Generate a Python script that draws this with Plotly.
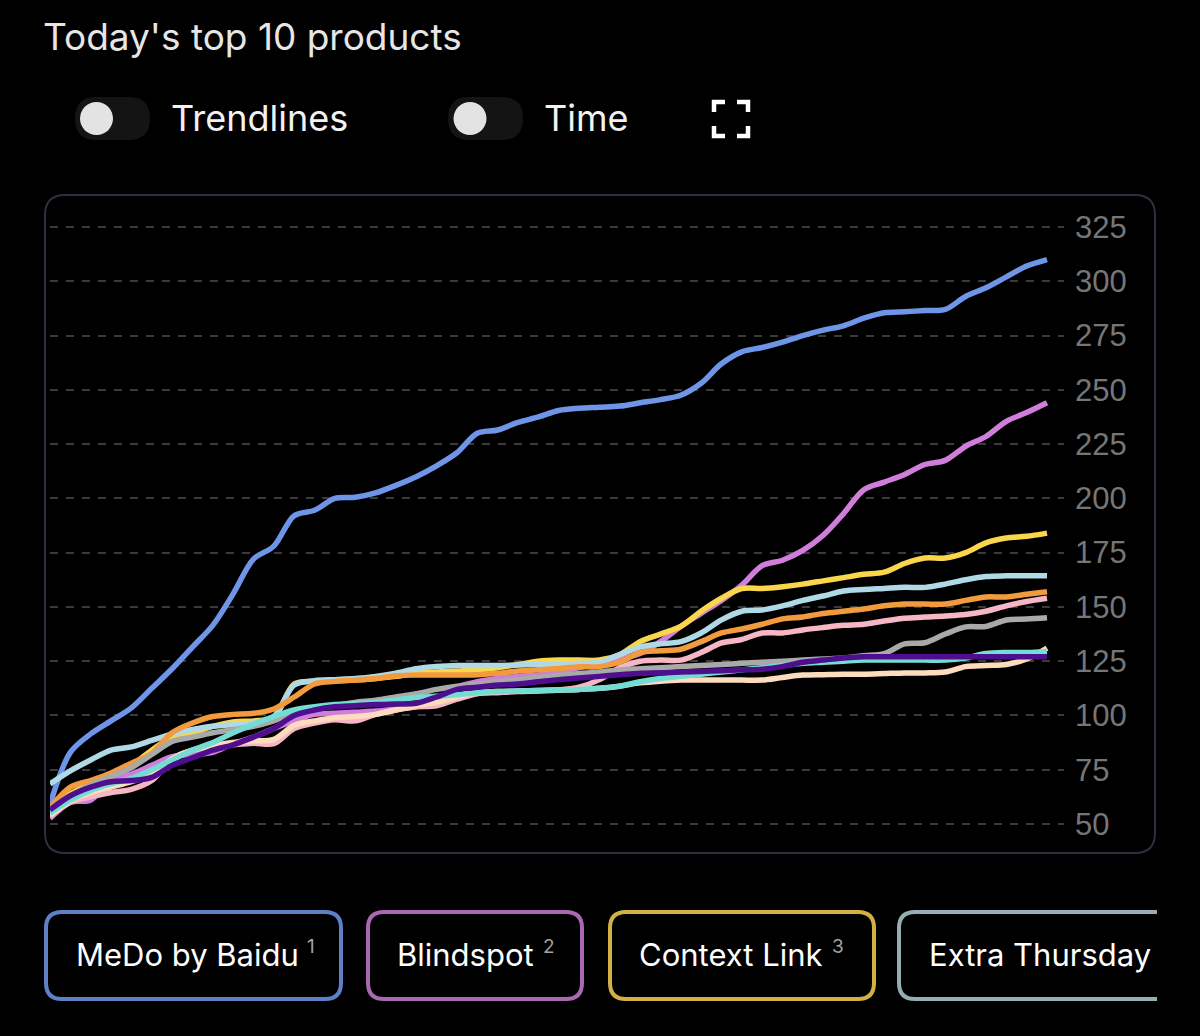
import plotly.graph_objects as go

W, H = 1200, 1036

# ---------------- data ----------------
steps = list(range(50))

medo = [59, 83, 91.5, 97.5, 103.5, 112.5, 121.5, 131.5, 141.5, 156, 172, 178, 192, 194.5, 200, 200.5,
        202.5, 206, 210, 215, 221, 230, 231.5, 235, 237.5, 240.5, 241.5, 242, 242.5, 244, 245.5, 247.5,
        253, 262, 267.5, 269.5, 272, 275, 277.5, 279.5, 283, 285.5, 286, 286.5, 287, 293, 297, 302, 307, 310]
blindspot = [52.5, 60, 61, 70.5, 73, 77, 81, 82, 83, 87, 90, 94, 97.5, 100.5, 101, 101.5, 102, 103, 104,
             107, 113, 115.5, 117, 118, 118.6, 120, 122, 124.5, 126, 128.5, 134, 141, 147, 153, 160, 169,
             171.5, 176, 183, 193, 204, 207.5, 211, 215.6, 217.5, 224, 228.5, 235.5, 239.5, 244]
context_link = [58, 64, 68.5, 72, 77, 84, 90, 92, 95, 97, 97.5, 99, 114.5, 115.7, 116, 116.3, 117, 118,
                119.5, 120, 120.5, 121, 122, 123.5, 125, 125.5, 125.5, 125.5, 128, 134, 137.5, 141, 148,
                154, 158.5, 158.5, 159.3, 160.5, 162, 163.5, 165, 166, 170, 172.5, 172.5, 175, 179.5,
                181.7, 182.5, 184]
extra_thursday = [68.5, 74.5, 79.5, 84, 85.5, 88.5, 91.5, 93.5, 95, 95.8, 96.5, 99.5, 114, 116, 116.5,
                  117, 118, 119.5, 121.5, 122.5, 123, 123, 123, 123.2, 123.5, 123.5, 124, 124.5, 128,
                  131.5, 133, 134, 138, 144, 148, 148.6, 150.5, 153, 155, 157.3, 158, 158.5, 159, 159,
                  160.5, 162.5, 164, 164.3, 164.3, 164.3]
product5 = [57.5, 67, 70, 73.5, 78, 82.5, 92, 96.5, 99.5, 100.5, 101, 103, 108.5, 114.5, 115.7, 116.3,
            117, 118.3, 118.6, 118.6, 118.6, 118.8, 119.4, 120.5, 121, 121.6, 122.4, 122.5, 124.5, 129,
            129.8, 130.5, 134, 138, 139.8, 142, 144.5, 145.4, 147, 148, 149, 150.5, 151.3, 151.3, 151.3,
            153, 154.6, 154.6, 155.8, 157]
product6 = [53.5, 60, 62.5, 64.5, 66, 70, 80, 84, 85.5, 86.5, 87.2, 87, 94, 96.5, 98, 97.5, 100.5, 102.5,
            104, 104.5, 107.5, 110, 110.5, 111, 111.3, 111.7, 113, 116.5, 122, 125, 125.5, 125.5, 129,
            133.4, 135, 138, 138, 139.4, 140.5, 141.5, 142, 143.5, 144.8, 145.3, 145.8, 146.5, 148,
            150.5, 152.5, 154]
product7 = [57, 63, 68, 72, 76, 82, 88, 90, 92, 93.5, 95, 97.5, 101, 103, 104.5, 106, 107, 108.5, 110,
            112, 113.5, 114.5, 115.5, 116.5, 117.5, 118.5, 119.3, 120, 121, 121.5, 122, 122.5, 123,
            123.5, 124, 124.5, 125, 125.5, 126, 126.5, 127.5, 128.5, 133, 133.5, 137.5, 140.8, 141, 144,
            144.4, 145]
product8 = [55, 61, 65.5, 68.5, 71, 75, 79.5, 84, 87.5, 92, 96, 99.5, 102.5, 104, 105, 105.5, 106, 107,
            108.3, 108.8, 109.5, 110.5, 111, 111.3, 111.5, 111.7, 112, 112.5, 113.5, 115.5, 117, 118, 119,
            120, 121, 122, 123, 124, 124.5, 125, 125.5, 125.5, 125.5, 125.5, 125.5, 126.5, 128.5, 129,
            129, 129.5]
product9 = [56.5, 63, 67, 69.5, 70, 71.5, 77, 80.5, 84, 86.5, 90, 94, 100, 102.5, 104, 104.5, 105, 105.3,
            105.6, 108.5, 112, 113, 114, 114.5, 115.5, 116.5, 117.2, 118, 118.7, 119.4, 119.6, 120,
            120.3, 120.6, 121, 121.3, 122.5, 124.5, 125.5, 126.5, 127, 127, 127, 127, 127, 127, 127, 127,
            127, 127]
product10 = [54, 60.5, 64.5, 67, 69.5, 73, 80, 84, 86, 87.5, 88.3, 89, 95.5, 97.5, 99, 99.5, 100.5, 102.5,
             104.5, 106, 108.5, 110.5, 111, 111.3, 111.5, 111.7, 112, 112.5, 113.5, 115, 115.8, 116.3,
             116.3, 116.3, 116.3, 116.3, 117.5, 118.6, 118.8, 119, 119, 119.3, 119.6, 119.6, 120, 122.5,
             123, 123.5, 126, 131]

names = ["MeDo by Baidu", "Blindspot", "Context Link", "Extra Thursday",
         "Product 5", "Product 6", "Product 7", "Product 8", "Product 9", "Product 10"]
series = [medo, blindspot, context_link, extra_thursday, product5, product6,
          product7, product8, product9, product10]
colors = ["#6f95e8", "#d07ddb", "#f9d64c", "#b0d9e6", "#f29a3e", "#f6b6c6",
          "#a9a9a9", "#74ddd3", "#4d0f8e", "#fddbbd"]

y_ticks = [50, 75, 100, 125, 150, 175, 200, 225, 250, 275, 300, 325]

legend_labels = ["MeDo by Baidu", "Blindspot", "Context Link", "Extra Thursday"]
legend_ranks = ["1", "2", "3", ""]
legend_border = ["#5f80c8", "#a869b1", "#d1b044", "#96adb3"]

# ---------------- helpers ----------------
def X(px):
    return px / W

def Y(py):
    return 1 - py / H

def rrect(x0, y0, x1, y1, r, open_right=False):
    if open_right:
        return (f"M {X(x1)},{Y(y0)} L {X(x0 + r)},{Y(y0)} Q {X(x0)},{Y(y0)} {X(x0)},{Y(y0 + r)} "
                f"L {X(x0)},{Y(y1 - r)} Q {X(x0)},{Y(y1)} {X(x0 + r)},{Y(y1)} L {X(x1)},{Y(y1)}")
    return (f"M {X(x0 + r)},{Y(y0)} L {X(x1 - r)},{Y(y0)} Q {X(x1)},{Y(y0)} {X(x1)},{Y(y0 + r)} "
            f"L {X(x1)},{Y(y1 - r)} Q {X(x1)},{Y(y1)} {X(x1 - r)},{Y(y1)} "
            f"L {X(x0 + r)},{Y(y1)} Q {X(x0)},{Y(y1)} {X(x0)},{Y(y1 - r)} "
            f"L {X(x0)},{Y(y0 + r)} Q {X(x0)},{Y(y0)} {X(x0 + r)},{Y(y0)} Z")

def poly(points):
    return "M " + " L ".join(f"{X(a)},{Y(b)}" for a, b in points)

FONT = "Inter, Roboto, sans-serif"

# ---------------- figure ----------------
fig = go.Figure()
order = [0, 1, 2, 3, 4, 5, 6, 9, 7, 8]
for i in order:
    fig.add_trace(go.Scatter(
        x=steps, y=series[i], name=names[i], mode="lines",
        line=dict(color=colors[i], width=5.5, shape="spline", smoothing=0.9),
        hoverinfo="skip", showlegend=False,
    ))

# plot geometry (pixels)
px_left, px_right = 50, 1064
px_step = (1047 - 50) / (len(steps) - 1)
x_max = (px_right - 50) / px_step
py_top, py_bot = 205, 845
px_per_unit = (824 - 227) / (325 - 50)
y_hi = 325 + (227 - py_top) / px_per_unit
y_lo = 50 - (py_bot - 824) / px_per_unit

shapes = []
# chart container
shapes.append(dict(type="path", xref="paper", yref="paper", layer="below",
                   path=rrect(45, 195, 1155, 853, 20),
                   line=dict(color="#2a303c", width=2), fillcolor="rgba(0,0,0,0)"))
# toggles
for tx0, kx in [(75, 96.5), (448, 470)]:
    shapes.append(dict(type="path", xref="paper", yref="paper",
                       path=rrect(tx0, 97, tx0 + 75, 140, 21.5),
                       line=dict(width=0), fillcolor="#141414"))
    shapes.append(dict(type="circle", xref="paper", yref="paper",
                       x0=X(kx - 16.5), x1=X(kx + 16.5), y0=Y(118.5 + 16.5), y1=Y(118.5 - 16.5),
                       line=dict(width=0), fillcolor="#e3e3e3"))
# fullscreen icon
for pts in [[(714, 112), (714, 102), (725, 102)], [(737, 102), (748, 102), (748, 112)],
            [(714, 126), (714, 136), (725, 136)], [(737, 136), (748, 136), (748, 126)]]:
    shapes.append(dict(type="path", xref="paper", yref="paper", path=poly(pts),
                       line=dict(color="#ffffff", width=4.5)))
# legend chips
chip_boxes = [(46, 912, 341, 999), (368, 912, 582, 999), (610, 912, 874, 999), (899, 912, 1157, 999)]
for k, (a, b, c, d) in enumerate(chip_boxes):
    shapes.append(dict(type="path", xref="paper", yref="paper",
                       path=rrect(a, b, c, d, 16, open_right=(k == 3)),
                       line=dict(color=legend_border[k], width=4), fillcolor="rgba(0,0,0,0)"))

annotations = []
def txt(s, x, y, size, color="#ffffff", family=FONT, anchor="left"):
    annotations.append(dict(text=s, x=X(x), y=Y(y), xref="paper", yref="paper",
                            xanchor=anchor, yanchor="middle", showarrow=False,
                            font=dict(family=family, size=size, color=color)))

txt("Today's top 10 products", 41, 36, 37, "#e6e6e6")
txt("Trendlines", 169, 118, 36, "#f2f2f2")
txt("Time", 542, 118, 36, "#f2f2f2")

label_x = [74, 395, 637, 927]
rank_x = [305, 541, 830]
for k, lab in enumerate(legend_labels):
    txt(lab, label_x[k], 954, 31, "#ffffff")
    if legend_ranks[k]:
        txt(legend_ranks[k], rank_x[k], 946, 19, "#a3a3a3")

fig.update_layout(
    width=W, height=H,
    margin=dict(l=0, r=0, t=0, b=0),
    paper_bgcolor="#000000", plot_bgcolor="rgba(0,0,0,0)",
    showlegend=False,
    shapes=shapes, annotations=annotations,
    xaxis=dict(domain=[X(px_left), X(px_right)], range=[0, x_max],
               visible=False, showgrid=False, zeroline=False, fixedrange=True),
    yaxis=dict(domain=[Y(py_bot), Y(py_top)], range=[y_lo, y_hi], side="right",
               tickmode="array", tickvals=y_ticks, ticktext=[str(v) for v in y_ticks],
               showgrid=True, gridcolor="#3b3b3b", gridwidth=2, griddash="8px,8px",
               zeroline=False, showline=False, ticks="", ticklabelstandoff=10,
               tickfont=dict(family="Liberation Sans, Arial, sans-serif", size=31, color="#767676"),
               fixedrange=True),
)

fig.write_html("out.html", config={"displayModeBar": False},
               post_script="document.body.style.margin='0';document.body.style.background='#000';")
